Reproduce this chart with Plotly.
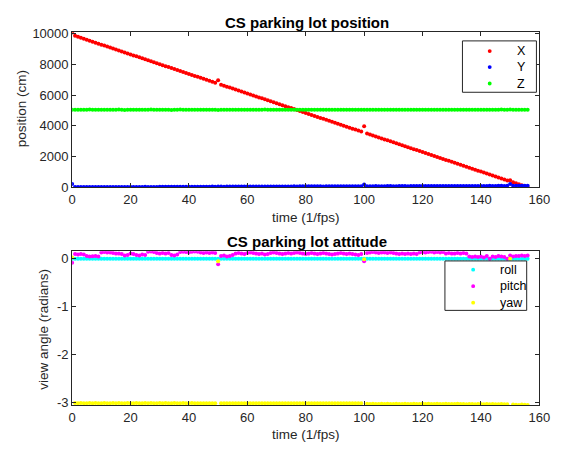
import plotly.graph_objects as go

# ---------------- data ----------------
X = [10080, 9860, 9796, 9733, 9669, 9606, 9542, 9478, 9415, 9351,
     9288, 9224, 9160, 9097, 9033, 8970, 8906, 8842, 8779, 8715,
     8652, 8588, 8524, 8461, 8397, 8334, 8270, 8206, 8143, 8079,
     8016, 7952, 7888, 7825, 7761, 7698, 7634, 7570, 7507, 7443,
     7380, 7316, 7252, 7189, 7125, 7062, 6998, 6934, 6871, 6807,
     6970, 6680, 6616, 6553, 6489, 6426, 6362, 6298, 6235, 6171,
     6108, 6044, 5980, 5917, 5853, 5790, 5726, 5662, 5599, 5535,
     5472, 5408, 5344, 5281, 5217, 5154, 5090, 5026, 4963, 4899,
     4836, 4772, 4708, 4645, 4581, 4518, 4454, 4390, 4327, 4263,
     4200, 4136, 4072, 4009, 3945, 3882, 3818, 3754, 3691, 3627,
     3975, 3500, 3436, 3373, 3309, 3246, 3182, 3118, 3055, 2991,
     2928, 2864, 2800, 2737, 2673, 2610, 2546, 2482, 2419, 2355,
     2292, 2228, 2164, 2101, 2037, 1974, 1910, 1846, 1783, 1719,
     1656, 1592, 1528, 1465, 1401, 1338, 1274, 1210, 1147, 1083,
     1020, 956, 892, 829, 765, 702, 638, 574, 511, 447,
     460, 320, 256, 193, 129, 66, 2]

Y = [210,
     25, 18, 20, 22, 15, 18, 20, 17, 22, 20,
     18, 15, 16, 19, 15, 17, 20, 22, 18, 20,
     25, 22, 20, 24, 26, 22, 20, 18, 22, 28,
     35, 30, 28, 32, 34, 30, 32, 35, 33, 30,
     32, 35, 38, 34, 36, 40, 38, 42, 40,
     45,
     42, 40, 44, 46, 42, 45, 48, 44, 46, 42,
     45, 48, 50, 46, 44, 48, 52, 50, 47, 50,
     52, 55, 50, 54, 58, 60, 56, 62, 70, 65,
     68, 64, 62, 66, 60, 58, 62, 64, 60, 62,
     65, 62, 60, 64, 66, 62, 65, 68, 64,
     180,
     68, 70, 72, 75, 70, 72, 74, 78, 75, 72,
     74, 76, 78, 75, 72, 76, 78, 80, 76, 78,
     80, 82, 78, 80, 84, 82, 80, 84, 86, 82,
     84, 86, 88, 85, 82, 86, 88, 90, 86, 88,
     90, 88, 92, 90, 88, 92, 94, 90, 92,
     220,
     95, 92, 96, 94, 98, 95]

Z = [5050, 5045, 5050, 5055, 5048, 5052, 5060, 5050, 5045, 5050,
     5055, 5050, 5048, 5052, 5045, 5050, 5058, 5050, 5030, 5045,
     5050, 5052, 5048, 5055, 5050, 5045, 5050, 5060, 5052, 5048,
     5040, 5050, 5055, 5048, 5030, 5045, 5050, 5058, 5052, 5050,
     5055, 5050, 5048, 5045, 5052, 5040, 5050, 5055, 5050, 5048,
     5030, 5045, 5050, 5052, 5048, 5055, 5050, 5045, 5052, 5050,
     5048, 5055, 5050, 5045, 5052, 5050, 5058, 5048, 5050, 5052,
     5050, 5045, 5055, 5050, 5048, 5052, 5050, 5045, 5050, 5055,
     5048, 5050, 5052, 5045, 5050, 5055, 5048, 5050, 5052, 5050,
     5045, 5050, 5055, 5048, 5050, 5052, 5045, 5050, 5048, 5055,
     5040, 5050, 5052, 5048, 5055, 5050, 5045, 5050, 5052, 5048,
     5050, 5055, 5048, 5050, 5045, 5052, 5050, 5048, 5055, 5050,
     5045, 5050, 5052, 5048, 5050, 5055, 5050, 5045, 5052, 5050,
     5048, 5050, 5055, 5050, 5045, 5052, 5050, 5048, 5050, 5055,
     5050, 5045, 5052, 5050, 5048, 5055, 5050, 5060, 5045, 5050,
     5065, 5050, 5048, 5052, 5045, 5050, 5048]

ROLL = [0.0, 0.0, 0.0, 0.0, 0.0, 0.0, 0.0, 0.0, 0.0, 0.0,
        0.0, 0.0, 0.0, 0.0, 0.0, 0.0, 0.0, 0.0, 0.0, 0.0,
        0.0, 0.0, 0.0, 0.0, 0.0, 0.0, 0.0, 0.0, 0.0, 0.0,
        0.0, 0.0, 0.0, 0.0, 0.0, 0.0, 0.0, 0.0, 0.0, 0.0,
        0.0, 0.0, 0.0, 0.0, 0.0, 0.0, 0.0, 0.0, 0.0, 0.0,
        0.0, 0.0, 0.0, 0.0, 0.0, 0.0, 0.0, 0.0, 0.0, 0.0,
        0.0, 0.0, 0.0, 0.0, 0.0, 0.0, 0.0, 0.0, 0.0, 0.0,
        0.0, 0.0, 0.0, 0.0, 0.0, 0.0, 0.0, 0.0, 0.0, 0.0,
        0.0, 0.0, 0.0, 0.0, 0.0, 0.0, 0.0, 0.0, 0.0, 0.0,
        0.0, 0.0, 0.0, 0.0, 0.0, 0.0, 0.0, 0.0, 0.0, 0.0,
        0.0, 0.0, 0.0, 0.0, 0.0, 0.0, 0.0, 0.0, 0.0, 0.0,
        0.0, 0.0, 0.0, 0.0, 0.0, 0.0, 0.0, 0.0, 0.0, 0.0,
        0.0, 0.0, 0.0, 0.0, 0.0, 0.0, 0.0, 0.0, 0.0, 0.0,
        0.0, 0.0, 0.0, 0.0, 0.0, 0.0, 0.0, 0.0, 0.0, 0.0,
        0.0, 0.0, 0.0, 0.0, 0.0, 0.0, 0.0, 0.0, 0.0, 0.0,
        0.0, 0.0, 0.0, 0.0, 0.0, 0.0, 0.0]

PITCH = [-0.08,
         0.10, 0.09, 0.10, 0.09,
         0.06, 0.05, 0.055, 0.06, 0.05,
         0.13, 0.14, 0.13, 0.13, 0.12,
         0.11, 0.11, 0.10,
         0.07, 0.08,
         0.11, 0.10,
         0.08, 0.07, 0.09, 0.08,
         0.15, 0.155, 0.14,
         0.12, 0.11, 0.12, 0.11, 0.12,
         0.08, 0.07, 0.09,
         0.14, 0.15, 0.14, 0.13,
         0.15, 0.155, 0.15,
         0.13, 0.12, 0.13, 0.12, 0.13, 0.12,
         -0.115,
         0.06, 0.07, 0.05, 0.06, 0.08,
         0.11, 0.12, 0.11, 0.10, 0.12,
         0.13, 0.12, 0.11, 0.10, 0.11,
         0.09, 0.10, 0.12, 0.13, 0.12,
         0.11, 0.10, 0.11, 0.12, 0.11,
         0.12, 0.13, 0.12, 0.11, 0.10,
         0.11, 0.12, 0.11, 0.10, 0.11,
         0.12, 0.11, 0.10, 0.09, 0.10,
         0.11, 0.12, 0.11, 0.10, 0.11,
         0.10, 0.09, 0.08, 0.10,
         -0.05,
         0.12, 0.13, 0.14, 0.13, 0.12, 0.13,
         0.13, 0.12, 0.13, 0.12, 0.11,
         0.10, 0.11, 0.10, 0.11, 0.10, 0.11, 0.10,
         0.13, 0.14, 0.13, 0.14, 0.15, 0.13, 0.14, 0.13, 0.14,
         0.11, 0.12, 0.11, 0.11, 0.12, 0.11, 0.12, 0.11,
         0.05, 0.04, 0.05, 0.04, 0.05,
         0.03, 0.06, 0.0, 0.05,
         0.04, 0.06, 0.05, 0.04, 0.0,
         0.07,
         0.05, 0.06, 0.06, 0.07, 0.06, 0.07]

YAW = [0.03,
       -3.005, -3.01, -3.005, -3.01, -3.01, -3.005, -3.01, -3.005, -3.01, -3.01,
       -3.005, -3.01, -3.01, -3.005, -3.01, -3.005, -3.01, -3.01, -3.005, -3.01,
       -3.01, -3.005, -3.01, -3.01, -3.005, -3.01, -3.005, -3.01, -3.01, -3.005,
       -3.01, -3.005, -3.01, -3.01, -3.005, -3.01, -3.01, -3.005, -3.01, -3.01,
       -3.005, -3.01, -3.01, -3.015, -3.01, -3.015, -3.01, -3.015, -3.01,
       -0.05,
       -3.01, -3.015, -3.01, -3.01, -3.015, -3.01, -3.015, -3.01, -3.01, -3.015,
       -3.01, -3.015, -3.01, -3.01, -3.015, -3.01, -3.01, -3.015, -3.01, -3.01,
       -3.015, -3.01, -3.01, -3.015, -3.01, -3.015, -3.01, -3.01, -3.015, -3.01,
       -3.01, -3.015, -3.01, -3.01, -3.015, -3.01, -3.01, -3.015, -3.01, -3.01,
       -3.015, -3.01, -3.01, -3.015, -3.01, -3.01, -3.015, -3.01, -3.01,
       -0.01,
       -3.025, -3.03, -3.025, -3.03, -3.03, -3.025, -3.03, -3.025, -3.03, -3.03,
       -3.025, -3.03, -3.03, -3.025, -3.03, -3.03, -3.025, -3.03, -3.03, -3.025,
       -3.03, -3.025, -3.03, -3.03, -3.025, -3.03, -3.03, -3.025, -3.03, -3.03,
       -3.03, -3.025, -3.03, -3.03, -3.035, -3.03, -3.03, -3.035, -3.03, -3.03,
       -3.035, -3.03, -3.035, -3.03, -3.035, -3.035, -3.03, -3.035, -3.035,
       0.0,
       -3.04, -3.045, -3.05, -3.04, -3.045, -3.05]

X_TICKS = [0, 20, 40, 60, 80, 100, 120, 140, 160]
POS_TICKS = [0, 2000, 4000, 6000, 8000, 10000]
ANG_TICKS = [-3, -2, -1, 0]
ANG_TICKTEXT = ["-3", "-2", "-1", "0"]

# ---------------- layout helpers ----------------
W, H = 563, 457
FONT = "Liberation Sans, Arial, Helvetica, sans-serif"
AX = "#262626"


def px_x(p):
    return p / W


def px_y(p):
    return 1 - p / H


fig = go.Figure()

top_series = [("X", X, "#ff0000"), ("Y", Y, "#0000ff"), ("Z", Z, "#00ff00")]
for name, vals, col in top_series:
    fig.add_trace(go.Scatter(
        x=list(range(len(vals))), y=vals, mode="markers", name=name,
        marker=dict(color=col, size=4, line=dict(width=0)),
        xaxis="x", yaxis="y", showlegend=False))

bot_series = [("roll", ROLL, "#00ffff"), ("pitch", PITCH, "#ff00ff"), ("yaw", YAW, "#ffff00")]
for name, vals, col in bot_series:
    fig.add_trace(go.Scatter(
        x=list(range(len(vals))), y=vals, mode="markers", name=name,
        marker=dict(color=col, size=4, line=dict(width=0)),
        xaxis="x2", yaxis="y2", showlegend=False))

axis_common = dict(
    showline=True, linecolor=AX, linewidth=1, mirror="ticks",
    ticks="inside", ticklen=4, tickcolor=AX, tickwidth=1,
    showgrid=False, zeroline=False,
    tickfont=dict(family=FONT, size=13, color=AX),
)

xdom = [px_x(70), px_x(550)]

fig.update_layout(
    width=W, height=H,
    margin=dict(l=0, r=0, t=0, b=0),
    paper_bgcolor="white", plot_bgcolor="white",
    font=dict(family=FONT, color=AX),
    showlegend=False,
    xaxis=dict(domain=xdom, range=[0, 160], tickvals=X_TICKS, anchor="y", **axis_common),
    yaxis=dict(domain=[px_y(187), px_y(27)], range=[0, 10100], tickvals=POS_TICKS,
               tickformat="d", anchor="x", **axis_common),
    xaxis2=dict(domain=xdom, range=[0, 160], tickvals=X_TICKS, anchor="y2", **axis_common),
    yaxis2=dict(domain=[px_y(412), px_y(253)], range=[-3.057, 0.158], tickvals=ANG_TICKS,
                ticktext=ANG_TICKTEXT, anchor="x2", **axis_common),
)

# titles and axis labels
annots = [
    dict(text="<b>CS parking lot position</b>", x=311, y=17, size=15, angle=0),
    dict(text="<b>CS parking lot attitude</b>", x=311, y=243, size=15, angle=0),
    dict(text="time (1/fps)", x=310, y=218, size=13.5, angle=0),
    dict(text="time (1/fps)", x=310, y=442, size=13.5, angle=0),
    dict(text="position (cm)", x=18, y=106, size=13.5, angle=-90),
    dict(text="view angle (radians)", x=41, y=333, size=13.5, angle=-90),
]
for a in annots:
    fig.add_annotation(text=a["text"], x=px_x(a["x"]), y=px_y(a["y"]), xref="paper", yref="paper",
                       xanchor="center", yanchor="middle", showarrow=False,
                       textangle=a["angle"],
                       font=dict(family=FONT, size=a["size"],
                                 color="black" if "<b>" in a["text"] else AX))

# legend boxes (MATLAB style)
legends = [
    dict(box=(471, 36, 547, 89), mx=499, tx=525, rows=[46.5, 63, 80], series=top_series),
    dict(box=(453, 263, 537, 314), mx=482, tx=508, rows=[272, 289, 306], series=bot_series),
]
for lg in legends:
    x0, y0, x1, y1 = lg["box"]
    fig.add_shape(type="rect", xref="paper", yref="paper",
                  x0=px_x(x0), x1=px_x(x1), y0=px_y(y1), y1=px_y(y0),
                  line=dict(color=AX, width=1), fillcolor="white", layer="above")
    for (name, _, col), ry in zip(lg["series"], lg["rows"]):
        fig.add_shape(type="circle", xref="paper", yref="paper",
                      x0=px_x(lg["mx"] - 2), x1=px_x(lg["mx"] + 2),
                      y0=px_y(ry + 2), y1=px_y(ry - 2),
                      line=dict(width=0), fillcolor=col, layer="above")
        fig.add_annotation(text=name, x=px_x(lg["tx"]), y=px_y(ry), xref="paper", yref="paper",
                           xanchor="left", yanchor="middle", showarrow=False,
                           font=dict(family=FONT, size=12.5, color="black"))

fig.write_html("out.html")
